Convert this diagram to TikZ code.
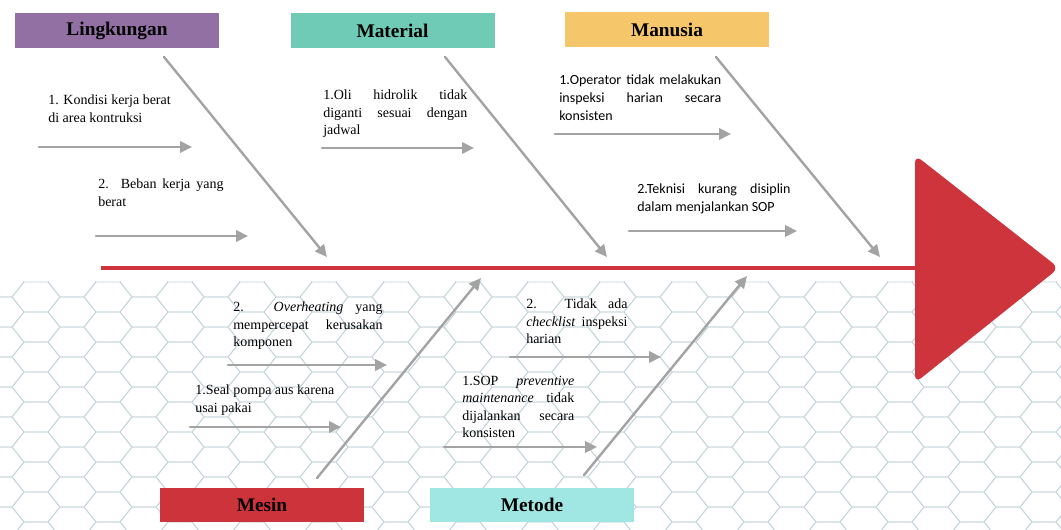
\documentclass[tikz,border=0pt]{standalone}
\usepackage{fontspec}
\setmainfont{Liberation Serif}
\newfontfamily\sansfnt{Carlito}
\usetikzlibrary{arrows.meta}
\definecolor{spinered}{RGB}{206,52,60}
\definecolor{bonegray}{RGB}{163,163,163}
\definecolor{meshblue}{RGB}{196,214,219}
\definecolor{lkpurple}{RGB}{147,112,164}
\definecolor{mtgreen}{RGB}{111,203,181}
\definecolor{mnorange}{RGB}{246,198,106}
\definecolor{msred}{RGB}{204,51,58}
\definecolor{mdcyan}{RGB}{160,230,226}
\hbadness=10000
\hfuzz=2pt

\begin{document}
\begin{tikzpicture}[x=0.75pt, y=-0.75pt, line cap=round, line join=round,
  mesh/.style={draw=meshblue, line width=0.6pt},
  spine/.style={draw=spinered, line width=3.6pt, line cap=butt},
  bone/.style={draw=bonegray, line width=1.8pt, -{Triangle[length=9pt,width=8.5pt]}},
  twig/.style={draw=bonegray, line width=2.1pt, -{Triangle[length=9pt,width=8.5pt]}},
  head/.style={minimum width=153pt, minimum height=26pt, inner sep=0pt,
    font=\fontsize{14.5}{16}\selectfont\bfseries},
  cause/.style={anchor=north west, inner sep=0pt, align=justify,
    font=\fontsize{10.5}{13}\selectfont},
  scause/.style={cause, font=\sansfnt\fontsize{10.5}{13.5}\selectfont}]
\useasboundingbox (0,0) rectangle (1061,530);

% background mesh
\begin{scope}
\clip (0,282) rectangle (1061,530);
\foreach \c in {0,...,30}{
  \foreach \r in {0,...,8}{
    \pgfmathsetmacro\hx{\c*36}
    \pgfmathsetmacro\hy{282+\r*30+mod(\c,2)*15}
    \draw[mesh] (\hx-24,\hy)--(\hx-12,\hy-15)--(\hx+12,\hy-15)--(\hx+24,\hy)
      --(\hx+12,\hy+15)--(\hx-12,\hy+15)--cycle;
  }
}
\end{scope}

% spine and head
\coordinate (sp-s) at (101,268);
\coordinate (sp-e) at (916,268);
\coordinate (hd-t) at (915,155);
\coordinate (hd-p) at (1059,268);
\coordinate (hd-b) at (915,383);
\draw[spine] (sp-s)--(sp-e);
\fill[spinered, rounded corners=6pt] (hd-t)--(hd-p)--(hd-b)--cycle;

% category boxes
\node[head, fill=lkpurple] (lingkungan) at (117,30.5) {Lingkungan};
\node[head, fill=mtgreen] (material) at (392.5,30.5) {Material};
\node[head, fill=mnorange] (manusia) at (667,29.5) {Manusia};
\node[head, fill=msred] (mesin) at (262,505) {Mesin};
\node[head, fill=mdcyan] (metode) at (532,505) {Metode};

% main bones
\coordinate (lk-a) at (164,57);
\coordinate (lk-b) at (327,257);
\coordinate (mt-a) at (445,57);
\coordinate (mt-b) at (607,257);
\coordinate (mn-a) at (716,57);
\coordinate (mn-b) at (880,257);
\coordinate (ms-a) at (317,478);
\coordinate (ms-b) at (481,278);
\coordinate (md-a) at (584,475);
\coordinate (md-b) at (747,276);
\draw[bone] (lk-a)--(lk-b);
\draw[bone] (mt-a)--(mt-b);
\draw[bone] (mn-a)--(mn-b);
\draw[bone] (ms-a)--(ms-b);
\draw[bone] (md-a)--(md-b);

% small bones
\coordinate (lk1-a) at (39,147);
\coordinate (lk1-b) at (192,147);
\coordinate (lk2-a) at (96,236);
\coordinate (lk2-b) at (248,236);
\coordinate (mt1-a) at (322,148);
\coordinate (mt1-b) at (474,148);
\coordinate (mn1-a) at (555,134);
\coordinate (mn1-b) at (731,134);
\coordinate (mn2-a) at (629,231);
\coordinate (mn2-b) at (797,231);
\coordinate (ms2-a) at (228,365);
\coordinate (ms2-b) at (387,365);
\coordinate (ms1-a) at (190,427);
\coordinate (ms1-b) at (341,427);
\coordinate (md2-a) at (510,357);
\coordinate (md2-b) at (661,357);
\coordinate (md1-a) at (444,447);
\coordinate (md1-b) at (597,447);
\draw[twig] (lk1-a)--(lk1-b);
\draw[twig] (lk2-a)--(lk2-b);
\draw[twig] (mt1-a)--(mt1-b);
\draw[twig] (mn1-a)--(mn1-b);
\draw[twig] (mn2-a)--(mn2-b);
\draw[twig] (ms2-a)--(ms2-b);
\draw[twig] (ms1-a)--(ms1-b);
\draw[twig] (md2-a)--(md2-b);
\draw[twig] (md1-a)--(md1-b);

% causes
\node[cause, text width=94pt] (lk1) at (48,95) {1. Kondisi kerja berat\\di area kontruksi};
\node[cause, text width=94pt] (lk2) at (98,179) {2. Beban kerja yang\linebreak berat};
\node[cause, text width=108pt] (mt1) at (323,90) {1.Oli hidrolik tidak\linebreak diganti sesuai dengan\linebreak jadwal};
\node[scause, text width=121.5pt] (mn1) at (559,75) {1.Operator tidak melakukan\linebreak inspeksi harian secara\linebreak konsisten};
\node[scause, text width=115pt] (mn2) at (637,184) {2.Teknisi kurang disiplin\linebreak dalam menjalankan SOP};
\node[cause, text width=112pt] (ms2) at (233,302) {2. \textit{Overheating} yang\linebreak mempercepat kerusakan\linebreak komponen};
\node[cause, text width=105pt] (ms1) at (195,385) {1.Seal pompa aus karena\\usai pakai};
\node[cause, text width=76pt] (md2) at (526,299) {2. Tidak ada\linebreak \textit{checklist} inspeksi\linebreak harian};
\node[cause, text width=84pt] (md1) at (462,376) {1.SOP \textit{preventive}\linebreak \textit{maintenance} tidak\linebreak dijalankan secara\linebreak konsisten};
\end{tikzpicture}
\end{document}
